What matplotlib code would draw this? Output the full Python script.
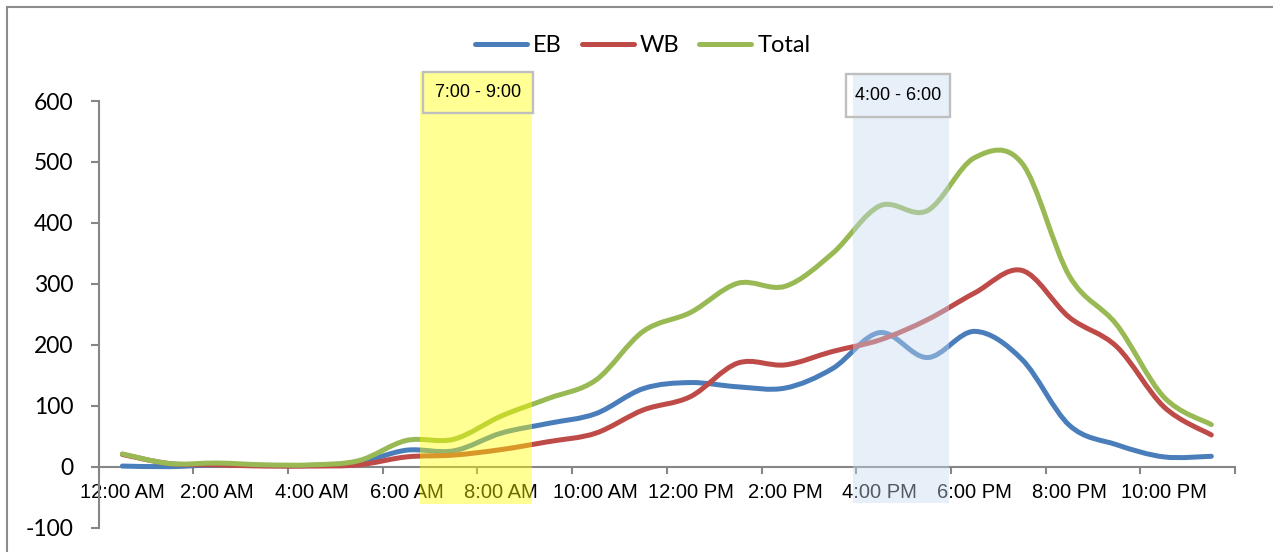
import matplotlib
matplotlib.use("Agg")
import matplotlib.pyplot as plt
from matplotlib.path import Path
from matplotlib.patches import PathPatch, Rectangle
from matplotlib.lines import Line2D
from matplotlib import font_manager

# hourly counts, 12:00 AM .. 11:00 PM
hours = list(range(24))
hour_labels = ["12:00 AM", "2:00 AM", "4:00 AM", "6:00 AM", "8:00 AM", "10:00 AM",
               "12:00 PM", "2:00 PM", "4:00 PM", "6:00 PM", "8:00 PM", "10:00 PM"]
eb = [1, 0, 3, 2, 2, 7, 27, 26, 55, 71, 87, 128, 138, 131, 129, 161,
      220, 179, 222, 176, 68, 36, 16, 17]
wb = [20, 5, 3, 1, 1, 3, 16, 19, 28, 41, 55, 93, 115, 170, 167, 189,
      208, 241, 285, 322, 245, 197, 98, 52]
total = [21, 5, 6, 3, 3, 10, 43, 45, 83, 112, 142, 222, 253, 301, 296, 350,
         428, 420, 507, 498, 313, 233, 114, 69]

periods = [("7:00 - 9:00", 6.29, 8.645), ("4:00 - 6:00", 15.43, 17.45)]

names = {f.name for f in font_manager.fontManager.ttflist}
narrow = "Liberation Sans Narrow" if "Liberation Sans Narrow" in names else "Liberation Sans"
body = "Lato"

W, H = 1273, 552
fig = plt.figure(figsize=(W / 100, H / 100), dpi=100)
ax = fig.add_axes([98.7 / W, 1 - 527.6 / H, (1235 - 98.7) / W, (527.6 - 101) / H])


def smooth_path(xs, ys):
    # Excel-like smoothed line: cubic Bezier through each point
    pts = list(zip(xs, ys))
    n = len(pts)
    verts = [pts[0]]
    codes = [Path.MOVETO]
    for i in range(n - 1):
        p0 = pts[i - 1] if i > 0 else pts[i]
        p1 = pts[i]
        p2 = pts[i + 1]
        p3 = pts[i + 2] if i + 2 < n else pts[i + 1]
        c1 = (p1[0] + (p2[0] - p0[0]) / 6, p1[1] + (p2[1] - p0[1]) / 6)
        c2 = (p2[0] - (p3[0] - p1[0]) / 6, p2[1] - (p3[1] - p1[1]) / 6)
        verts += [c1, c2, p2]
        codes += [Path.CURVE4] * 3
    return Path(verts, codes)


series = [("EB", eb, "#4A7EBB"), ("WB", wb, "#BE4B48"), ("Total", total, "#98B954")]
handles = []
for name, vals, col in series:
    ax.add_patch(PathPatch(smooth_path(hours, vals), fill=False, edgecolor=col,
                           lw=3.6, capstyle="round", joinstyle="round", zorder=3))
    handles.append(Line2D([], [], color=col, lw=3.6, solid_capstyle="round", label=name))

ax.set_xlim(-0.5, 23.5)
ax.set_ylim(-100, 600)

# highlighted peak periods
ax.add_patch(Rectangle((periods[0][1], -61), periods[0][2] - periods[0][1], 709,
                       facecolor="#FFFF00", alpha=0.42, lw=0, zorder=5, clip_on=False))
ax.add_patch(Rectangle((periods[1][1], -60), periods[1][2] - periods[1][1], 704,
                       facecolor="#C6D9F1", alpha=0.42, lw=0, zorder=5, clip_on=False))

boxes = [(6.34, 8.67, 580.5, 648), (15.28, 17.47, 574, 644.5)]
for (label, _, _), (x0, x1, y0, y1) in zip(periods, boxes):
    ax.add_patch(Rectangle((x0, y0), x1 - x0, y1 - y0, fill=False, edgecolor="#BFBFBF",
                           lw=1.7, zorder=6, clip_on=False))
    ax.text((x0 + x1) / 2, (y0 + y1) / 2, label, ha="center", va="center",
            fontsize=13, family=[narrow, "DejaVu Sans"], color="#000000", zorder=7)

# axes styling
for s in ["top", "right"]:
    ax.spines[s].set_visible(False)
ax.spines["bottom"].set_position(("data", 0))
ax.spines["bottom"].set_color("#868686")
ax.spines["left"].set_color("#868686")
ax.spines["bottom"].set_linewidth(1.5)
ax.spines["left"].set_linewidth(1.5)

ax.set_yticks(range(-100, 601, 100))
ax.set_yticklabels([str(v) for v in range(-100, 601, 100)], family=[body, "DejaVu Sans"],
                   fontsize=16.5)
ax.tick_params(axis="y", direction="out", length=6, width=1.5, color="#868686", pad=12)

ax.set_xticks(hours[::2])
ax.set_xticklabels(hour_labels, family=[narrow, "DejaVu Sans"], fontsize=14.5)
ax.set_xticks([h - 0.5 for h in hours[::2]] + [23.5], minor=True)
ax.tick_params(axis="x", which="major", length=0, pad=12)
ax.tick_params(axis="x", which="minor", direction="out", length=5, width=1.5, color="#868686")

fig.legend(handles=handles, loc="center", bbox_to_anchor=(0.505, 1 - 46 / H), ncol=3,
           frameon=False, prop={"family": body, "size": 17}, handlelength=2.2,
           handletextpad=0.25, columnspacing=0.85)

# chart frame
fig.add_artist(Rectangle((7 / W, -0.2), 1.2, 1.2 - 7 / H, transform=fig.transFigure,
                         fill=False, edgecolor="#8C8C8C", lw=1.5))

fig.savefig("out.png", dpi=100, facecolor="white")
